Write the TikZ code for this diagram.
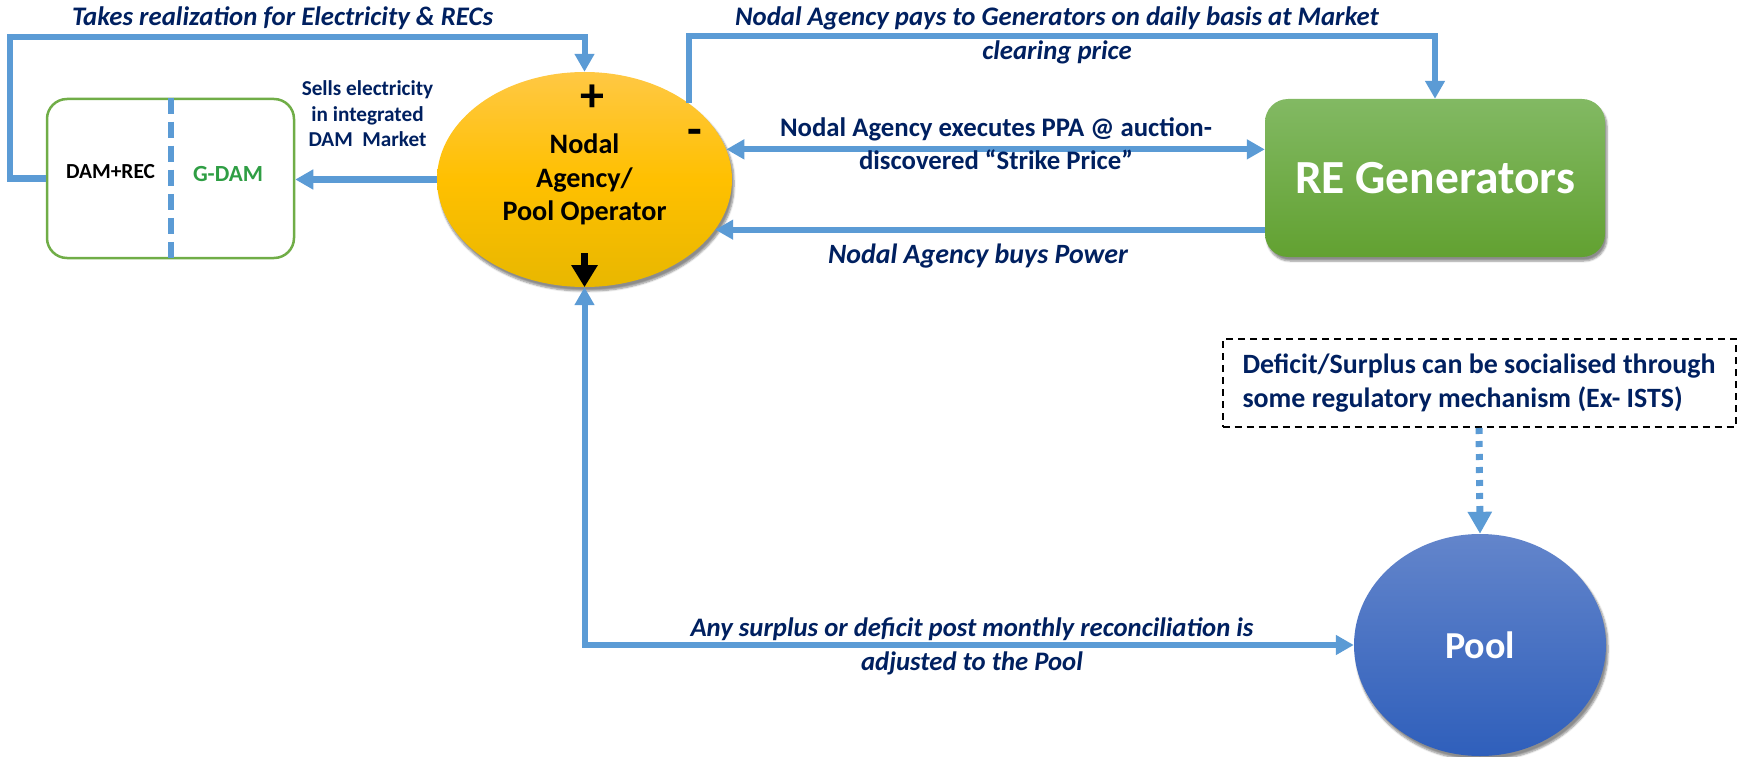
\documentclass[tikz,border=0pt]{standalone}
\usepackage{fontspec}
\setmainfont{Carlito}
\usetikzlibrary{arrows.meta,shapes.geometric,shadows.blur}

\definecolor{lblue}{HTML}{5B9BD5}
\definecolor{navy}{HTML}{002060}
\definecolor{mktgreen}{HTML}{70AD47}
\definecolor{gdamgreen}{HTML}{2F9E44}
\definecolor{goldtop}{HTML}{FFC844}
\definecolor{goldmid}{HTML}{FFC000}
\definecolor{goldbot}{HTML}{E8B700}
\definecolor{retop}{HTML}{82B963}
\definecolor{rebot}{HTML}{62A131}
\definecolor{pooltop}{HTML}{6385CB}
\definecolor{poolbot}{HTML}{2F5FBB}

% pick the font size that sets a sample line at a given width
% #1 font switches, #2 width (pt), #3 sample line, #4 line spacing (pt)
\newlength\natw
\newcommand{\fitto}[4]{%
  \settowidth{\natw}{#1\fontsize{10pt}{12pt}\selectfont #3}%
  \pgfmathsetmacro{\fitsize}{10*#2/\natw}%
  #1\fontsize{\fitsize pt}{#4pt}\selectfont}

\begin{document}
\begin{tikzpicture}[x=1pt,y=-1pt,
  conn/.style={draw=lblue, line width=6pt},
  >={Triangle[width=19pt,length=18pt]},
  lbl/.style={text=navy, inner sep=0pt, align=center},
  softshadow/.style={blur shadow={shadow xshift=2pt, shadow yshift=-4pt,
      shadow blur steps=6, shadow blur extra rounding=3pt, shadow opacity=45}},
]
\useasboundingbox (0,0) rectangle (1738,757);

% main nodes
\node[ellipse, minimum width=295pt, minimum height=215pt, inner sep=0pt, softshadow,
      top color=goldtop, bottom color=goldbot, middle color=goldmid, align=center,
      font={\fitto{\bfseries}{164}{Pool Operator}{33.5}}] (nodal) at (584.5,179.5)
      {Nodal\\Agency/\\Pool Operator};

\node[rectangle, rounded corners=23pt, minimum width=340pt, minimum height=158pt,
      inner sep=0pt, softshadow, top color=retop, bottom color=rebot, text=white,
      font={\fitto{\bfseries}{280}{RE Generators}{54}}] (re) at (1435,178) {RE Generators};

\node[ellipse, minimum width=252pt, minimum height=222pt, inner sep=0pt, softshadow,
      top color=pooltop, bottom color=poolbot, text=white,
      font={\fitto{\bfseries}{70}{Pool}{46}}] (pool) at (1480,645) {Pool};

\node[draw=mktgreen, line width=2.5pt, rounded corners=20pt, minimum width=247pt,
      minimum height=159pt, inner sep=0pt] (mkt) at (170.5,178.5) {};
\draw[lblue, line width=6pt, dash pattern=on 16pt off 8pt] (mkt.north) -- (mkt.south);
\node[font={\fitto{\bfseries}{89}{DAM+REC}{25}}, inner sep=0pt] (damrec) at (110.5,172) {DAM+REC};
\node[font={\fitto{\bfseries}{70}{G-DAM}{27}}, text=gdamgreen, inner sep=0pt] (gdam) at (228,174.5) {G-DAM};

\node[draw=black, line width=2pt, dash pattern=on 7pt off 5pt, minimum width=513pt,
      minimum height=88pt, inner sep=0pt, align=left, text=navy,
      font={\fitto{\bfseries}{473}{Deficit/Surplus can be socialised through}{34}}] (note) at (1479,383)
      {Deficit/Surplus can be socialised through\\some regulatory mechanism (Ex- ISTS)};

% signs on the nodal agency
\node[font=\bfseries\fontsize{48pt}{48pt}\selectfont, inner sep=0pt] (plus) at (592,98) {+};
\node[font=\bfseries\fontsize{48pt}{48pt}\selectfont, inner sep=0pt] (minus) at (695,137) {-};
\draw[line width=7pt, -{Triangle[width=25pt,length=22pt]}] ([yshift=34pt]nodal.south) -- (nodal.south);

% connectors
\draw[conn,->] (mkt.west) -- ++(-36,0) |- (nodal.north |- 0,37) -- (nodal.north);
\draw[conn,->] (nodal.west) -- (nodal.west -| mkt.east);
\draw[conn,->] (nodal.36) -- (nodal.36 |- 0,36) -| (re.north);
\draw[conn,<->] (nodal.12.6) -- (nodal.12.6 -| re.west);
\draw[conn,->] (nodal.-21.7 -| re.west) -- (nodal.-21.7);
\draw[conn,<->] (nodal.south) |- (pool.west);
\draw[lblue, line width=7pt, dash pattern=on 6pt off 7pt,
      -{Triangle[width=23pt,length=22pt]}] (note.south) -- (pool.north);

% connector labels
\node[lbl, font={\fitto{\bfseries\itshape}{421}{Takes realization for Electricity \& RECs}{34}}]
      (lbltakes) at (282.5,18) {Takes realization for Electricity \& RECs};
\node[lbl, font={\fitto{\bfseries}{131.5}{Sells electricity}{25.5}}] (lblsells) at (367.5,114)
      {Sells electricity\\in integrated\\DAM\ \ Market};
\node[lbl, font={\fitto{\bfseries\itshape}{421}{Takes realization for Electricity \& RECs}{34}}]
      (lblpays) at (1057,35)
      {Nodal Agency pays to Generators on daily basis at Market\\clearing price};
\node[lbl, font={\fitto{\bfseries}{432}{Nodal Agency executes PPA @ auction-}{33}}]
      (lblppa) at (996,144) {Nodal Agency executes PPA @ auction-\\discovered “Strike Price”};
\node[lbl, font={\fitto{\bfseries\itshape}{300}{Nodal Agency buys Power}{34}}]
      (lblbuys) at (978,256) {Nodal Agency buys Power};
\node[lbl, font={\fitto{\bfseries\itshape}{563}{Any surplus or deficit post monthly reconciliation is}{34}}]
      (lblsurplus) at (972,646)
      {Any surplus or deficit post monthly reconciliation is\\adjusted to the Pool};
\end{tikzpicture}
\end{document}
